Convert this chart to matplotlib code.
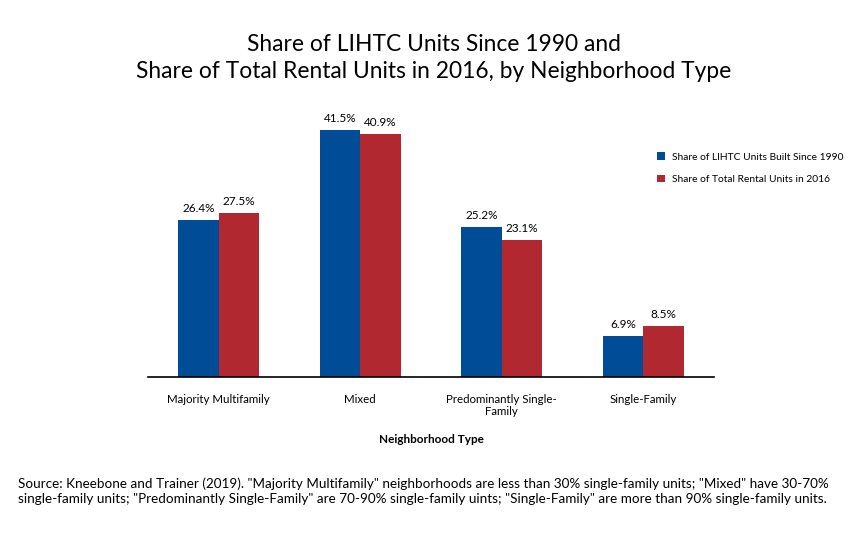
import matplotlib.pyplot as plt
import numpy as np

categories = ["Majority Multifamily", "Mixed", "Predominantly Single-\nFamily", "Single-Family"]
lihtc_share = [26.4, 41.5, 25.2, 6.9]
rental_share = [27.5, 40.9, 23.1, 8.5]
series_names = ["Share of LIHTC Units Built Since 1990", "Share of Total Rental Units in 2016"]

BLUE = "#004C97"
RED = "#B22830"
NARROW = ["Lato", "DejaVu Sans"]

fig = plt.figure(figsize=(8.67, 5.34), dpi=100)
ax = fig.add_axes([148 / 867, 1 - 377 / 534, (714 - 148) / 867, 277 / 534])

x = np.arange(len(categories))
w = 0.2875
b1 = ax.bar(x - w / 2, lihtc_share, w, color=BLUE, label=series_names[0])
b2 = ax.bar(x + w / 2, rental_share, w, color=RED, label=series_names[1])

# value labels above each bar
for bars in (b1, b2):
    for rect in bars:
        h = rect.get_height()
        ax.text(rect.get_x() + rect.get_width() / 2, h + 1.0, f"{h:.1f}%",
                ha="center", va="bottom", fontsize=8.5, family=NARROW)

ax.set_xlim(-0.5, 3.5)
ax.set_ylim(0, 46.55)
ax.set_yticks([])
for s in ("top", "right", "left"):
    ax.spines[s].set_visible(False)
ax.spines["bottom"].set_linewidth(1.2)
ax.set_xticks(x)
ax.set_xticklabels(categories, family=NARROW, fontsize=8.3)
ax.tick_params(axis="x", length=0, pad=12)
ax.set_xlabel("Neighborhood Type", family=NARROW, fontsize=8.5, fontweight="bold", labelpad=12)

fig.legend(handles=[b1, b2], loc="upper left", bbox_to_anchor=(648 / 867, 1 - 143 / 534),
           frameon=False, prop={"family": NARROW, "size": 7.4}, handlelength=0.75,
           handleheight=0.75, handletextpad=0.7, labelspacing=1.3)

fig.text(0.5, 1 - 58 / 534, "Share of LIHTC Units Since 1990 and\nShare of Total Rental Units in 2016, by Neighborhood Type",
         ha="center", va="center", fontsize=16.4, family="Lato", linespacing=1.3)

fig.text(18 / 867, 1 - 491 / 534,
         "Source: Kneebone and Trainer (2019). \"Majority Multifamily\" neighborhoods are less than 30% single-family units; \"Mixed\" have 30-70%\n"
         "single-family units; \"Predominantly Single-Family\" are 70-90% single-family uints; \"Single-Family\" are more than 90% single-family units.",
         ha="left", va="center", fontsize=9.75, family="Lato", linespacing=1.3)

fig.savefig("out.png", dpi=100)
